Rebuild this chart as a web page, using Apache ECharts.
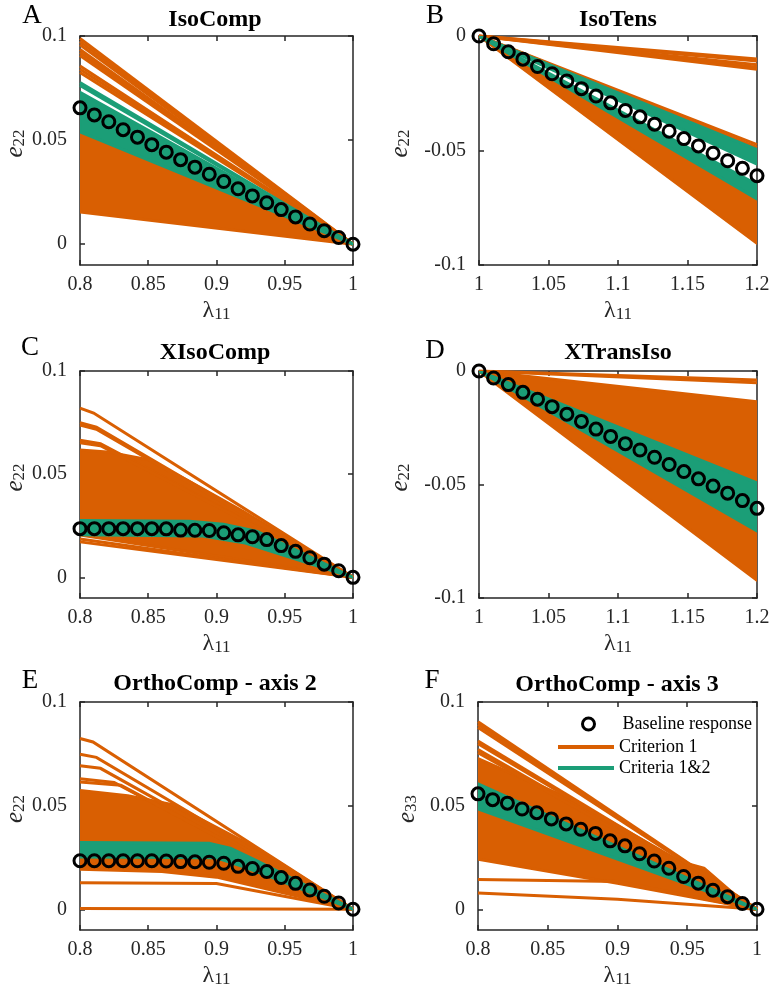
<!DOCTYPE html>
<html><head><meta charset="utf-8">
<script src="https://cdn.jsdelivr.net/npm/echarts/dist/echarts.min.js"></script>
<style>html,body{margin:0;padding:0;background:#fff}#c{width:775px;height:995px}</style>
</head><body><div id="c"></div>
<script>
// ---------------- data ----------------
const titles = ['IsoComp', 'IsoTens', 'XIsoComp', 'XTransIso', 'OrthoComp - axis 2', 'OrthoComp - axis 3'];
const letters = ['A', 'B', 'C', 'D', 'E', 'F'];
const ySubs = ['22', '22', '22', '22', '22', '33'];
const xTicksComp = [0.8, 0.85, 0.9, 0.95, 1];
const xTicksTens = [1, 1.05, 1.1, 1.15, 1.2];
const yTicksComp = [0, 0.05, 0.1];
const yTicksTens = [-0.1, -0.05, 0];
const legendNames = ['Baseline response', 'Criterion 1', 'Criteria 1&2'];

const xComp = [0.8, 0.8105, 0.8211, 0.8316, 0.8421, 0.8526, 0.8632, 0.8737, 0.8842, 0.8947, 0.9053, 0.9158, 0.9263, 0.9368, 0.9474, 0.9579, 0.9684, 0.9789, 0.9895, 1.0];
const xTens = [1.0, 1.0105, 1.0211, 1.0316, 1.0421, 1.0526, 1.0632, 1.0737, 1.0842, 1.0947, 1.1053, 1.1158, 1.1263, 1.1368, 1.1474, 1.1579, 1.1684, 1.1789, 1.1895, 1.2];

const baseA = [0.0655, 0.0621, 0.0588, 0.0550, 0.0514, 0.0478, 0.0442, 0.0406, 0.0370, 0.0336, 0.0301, 0.0266, 0.0232, 0.0199, 0.0166, 0.0131, 0.0097, 0.0065, 0.0032, 0];
const baseB = [0, -0.0034, -0.0069, -0.0101, -0.0133, -0.0165, -0.0196, -0.0230, -0.0262, -0.0292, -0.0325, -0.0353, -0.0385, -0.0416, -0.0448, -0.0480, -0.0512, -0.0545, -0.0578, -0.0610];
const baseC = [0.0236, 0.0236, 0.0236, 0.0236, 0.0236, 0.0236, 0.0235, 0.0229, 0.0228, 0.0227, 0.0216, 0.0206, 0.0197, 0.0183, 0.0154, 0.0126, 0.0095, 0.0064, 0.0032, 0];
const baseD = [0, -0.0031, -0.0060, -0.0094, -0.0124, -0.0157, -0.0190, -0.0222, -0.0256, -0.0288, -0.0320, -0.0348, -0.0380, -0.0412, -0.0443, -0.0475, -0.0507, -0.0538, -0.0571, -0.0605];
const baseE = [0.0234, 0.0234, 0.0234, 0.0234, 0.0234, 0.0234, 0.0233, 0.0230, 0.0229, 0.0227, 0.0222, 0.0207, 0.0197, 0.0182, 0.0153, 0.0125, 0.0093, 0.0063, 0.0030, 0];
const baseF = [0.0557, 0.0529, 0.0512, 0.0484, 0.0466, 0.0436, 0.0412, 0.0386, 0.0366, 0.0330, 0.0306, 0.0268, 0.0233, 0.0198, 0.0158, 0.0126, 0.0092, 0.0061, 0.0028, 0];

// Criterion 1 (orange) and Criteria 1&2 (green): distinct curves and dense envelopes
const orangeLinesA = [
  [[0.8, 0.0988], [1, 0]], [[0.8, 0.0973], [1, 0]], [[0.8, 0.0958], [1, 0]],
  [[0.8, 0.0935], [1, 0]], [[0.8, 0.0921], [1, 0]], [[0.8, 0.0906], [1, 0]],
  [[0.8, 0.0856], [1, 0]], [[0.8, 0.0840], [1, 0]], [[0.8, 0.0825], [1, 0]]
];
const orangeBandsA = [[[0.8, 0.0600], [1, 0], [0.8, 0.0155]]];
const greenLinesA = [[[0.8, 0.0776], [1, 0]], [[0.8, 0.0763], [1, 0]]];
const greenBandsA = [[[0.8, 0.0730], [1, 0], [0.8, 0.0540]]];

const orangeLinesB = [
  [[1, 0], [1.2, -0.0100]], [[1, 0], [1.2, -0.0109]], [[1, 0], [1.2, -0.0126]],
  [[1, 0], [1.2, -0.0136]], [[1, 0], [1.2, -0.0145]],
  [[1, 0], [1.2, -0.0474]], [[1, 0], [1.2, -0.0486]]
];
const orangeBandsB = [[[1, 0], [1.2, -0.0700], [1.2, -0.0905]]];
const greenLinesB = [];
const greenBandsB = [[[1, 0], [1.2, -0.0496], [1.2, -0.0560]], [[1, 0], [1.2, -0.0648], [1.2, -0.0712]]];

const orangeLinesC = [
  [[0.8, 0.0820], [0.81, 0.0796], [1, 0]],
  [[0.8, 0.0750], [0.812, 0.0728], [1, 0]],
  [[0.8, 0.0738], [0.812, 0.0718], [1, 0]],
  [[0.8, 0.0664], [0.815, 0.0648], [1, 0]],
  [[0.8, 0.0652], [0.815, 0.0638], [1, 0]],
  [[0.8, 0.0186], [1, 0]],
  [[0.8, 0.0172], [1, 0]]
];
const orangeBandsC = [[[0.8, 0.0617], [0.82, 0.0608], [0.85, 0.0570], [0.88, 0.0465], [0.92, 0.0318], [1, 0], [0.8, 0.0205]]];
const greenLinesC = [];
const greenBandsC = [[[0.8, 0.0275], [0.88, 0.0272], [0.905, 0.0258], [0.93, 0.0222], [1, 0], [0.92, 0.0168], [0.89, 0.0200], [0.8, 0.0207]]];

const orangeLinesD = [[[1, 0], [1.2, -0.0040]], [[1, 0], [1.2, -0.0052]]];
const orangeBandsD = [[[1, 0], [1.2, -0.0135], [1.2, -0.0922]]];
const greenLinesD = [];
const greenBandsD = [[[1, 0], [1.2, -0.0493], [1.2, -0.0705]]];

const orangeLinesE = [
  [[0.8, 0.0824], [0.8095, 0.0807], [1, 0]],
  [[0.8, 0.0748], [0.812, 0.0733], [1, 0]],
  [[0.8, 0.0692], [0.815, 0.0680], [1, 0]],
  [[0.8, 0.0630], [0.825, 0.0612], [1, 0]],
  [[0.8, 0.0614], [0.83, 0.0598], [1, 0]],
  [[0.8, 0.0128], [0.9, 0.0124], [1, 0]],
  [[0.8, 0.0004], [1, 0]]
];
const orangeBandsE = [[[0.8, 0.0573], [0.835, 0.0548], [0.868, 0.0505], [0.93, 0.0292], [1, 0], [0.9, 0.0155], [0.86, 0.0182], [0.8, 0.0193]]];
const greenLinesE = [];
const greenBandsE = [[[0.8, 0.0322], [0.895, 0.0318], [0.91, 0.0295], [0.93, 0.0232], [1, 0], [0.94, 0.0155], [0.92, 0.0205], [0.9, 0.0248], [0.8, 0.0252]]];

const orangeLinesF = [
  [[0.8, 0.0905], [1, 0]], [[0.8, 0.0891], [1, 0]], [[0.8, 0.0877], [1, 0]],
  [[0.8, 0.0812], [1, 0]], [[0.8, 0.0799], [1, 0]],
  [[0.8, 0.0770], [1, 0]], [[0.8, 0.0756], [1, 0]],
  [[0.8, 0.0144], [0.9, 0.0134], [1, 0]],
  [[0.8, 0.0079], [0.9, 0.0048], [1, 0]]
];
const orangeBandsF = [[[0.8, 0.0727], [0.87, 0.0520], [0.945, 0.0230], [0.962, 0.0198], [0.985, 0.0065], [1, 0], [0.9, 0.0125], [0.8, 0.0241]]];
const greenLinesF = [];
const greenBandsF = [[[0.8, 0.0605], [1, 0], [0.8, 0.0484]]];

// ---------------- styling / layout ----------------
const ORANGE = '#D95F02', GREEN = '#1B9E77', AX = '#262626';
const FONT = '"Liberation Serif", "Times New Roman", serif';
const LW = 3;

const panels = [
  {grid: {left: 77, top: 36, width: 276, height: 229}, xr: [0.8, 1], yr: [-0.01, 0.1], xt: xTicksComp, yt: yTicksComp, bx: xComp, by: baseA,
   ol: orangeLinesA, ob: orangeBandsA, gl: greenLinesA, gb: greenBandsA, yGap: 52, title: [215, 20], letter: [32, 16]},
  {grid: {left: 479, top: 36, width: 278, height: 229}, xr: [1, 1.2], yr: [-0.1, 0], xt: xTicksTens, yt: yTicksTens, bx: xTens, by: baseB,
   ol: orangeLinesB, ob: orangeBandsB, gl: greenLinesB, gb: greenBandsB, yGap: 66, title: [618, 20], letter: [435, 16]},
  {grid: {left: 77, top: 371, width: 276, height: 227}, xr: [0.8, 1], yr: [-0.01, 0.1], xt: xTicksComp, yt: yTicksComp, bx: xComp, by: baseC,
   ol: orangeLinesC, ob: orangeBandsC, gl: greenLinesC, gb: greenBandsC, yGap: 52, title: [215, 353], letter: [30, 348]},
  {grid: {left: 479, top: 371, width: 278, height: 227}, xr: [1, 1.2], yr: [-0.1, 0], xt: xTicksTens, yt: yTicksTens, bx: xTens, by: baseD,
   ol: orangeLinesD, ob: orangeBandsD, gl: greenLinesD, gb: greenBandsD, yGap: 66, title: [618, 353], letter: [435, 351]},
  {grid: {left: 77, top: 702, width: 276, height: 228}, xr: [0.8, 1], yr: [-0.01, 0.1], xt: xTicksComp, yt: yTicksComp, bx: xComp, by: baseE,
   ol: orangeLinesE, ob: orangeBandsE, gl: greenLinesE, gb: greenBandsE, yGap: 52, title: [215, 684], letter: [30, 681]},
  {grid: {left: 478, top: 702, width: 279, height: 228}, xr: [0.8, 1], yr: [-0.01, 0.1], xt: xTicksComp, yt: yTicksComp, bx: xComp, by: baseF,
   ol: orangeLinesF, ob: orangeBandsF, gl: greenLinesF, gb: greenBandsF, yGap: 58, title: [617, 685], letter: [432, 681]}
];

const fmt = v => String(+(+v).toFixed(3));
const axLine = {show: true, onZero: false, lineStyle: {color: AX, width: 1.5}};

const grids = [], xAxes = [], yAxes = [], series = [], graphics = [];

function polySeries(k, polys, color, name, z) {
  return {
    type: 'custom', name: name, xAxisIndex: 2 * k, yAxisIndex: 2 * k, coordinateSystem: 'cartesian2d',
    silent: true, z: z, clip: true,
    data: polys.map(p => p[0]),
    renderItem: function (params, api) {
      const p = polys[params.dataIndex];
      return {type: 'polygon', shape: {points: p.map(pt => api.coord(pt))},
        style: {fill: color, stroke: color, lineWidth: LW, lineJoin: 'round'}};
    }
  };
}
function lineSeries(k, lines, color, name, z) {
  return {
    type: 'lines', name: name, xAxisIndex: 2 * k, yAxisIndex: 2 * k, coordinateSystem: 'cartesian2d',
    polyline: true, silent: true, z: z,
    data: lines.map(c => ({coords: c})),
    lineStyle: {color: color, width: LW, opacity: 1}
  };
}

panels.forEach((p, k) => {
  grids.push(Object.assign({containLabel: false}, p.grid));
  xAxes.push({
    gridIndex: k, type: 'value', min: p.xr[0], max: p.xr[1], position: 'bottom',
    axisLine: axLine,
    axisTick: {show: true, inside: true, length: 5, customValues: p.xt, lineStyle: {color: AX, width: 1.5}},
    axisLabel: {show: true, customValues: p.xt, formatter: fmt, margin: 10, fontFamily: FONT, fontSize: 20, color: AX},
    splitLine: {show: false},
    name: '{l|λ}{s|11}', nameLocation: 'middle', nameGap: 33,
    nameTextStyle: {rich: {
      l: {fontFamily: FONT, fontSize: 24, color: AX, lineHeight: 24, verticalAlign: 'top'},
      s: {fontFamily: FONT, fontSize: 17, color: AX, lineHeight: 17, padding: [10, 0, 0, 0], verticalAlign: 'bottom'}
    }}
  });
  xAxes.push({
    gridIndex: k, type: 'value', min: p.xr[0], max: p.xr[1], position: 'top',
    axisLine: axLine,
    axisTick: {show: true, inside: true, length: 5, customValues: p.xt, lineStyle: {color: AX, width: 1.5}},
    axisLabel: {show: false}, splitLine: {show: false}
  });
  yAxes.push({
    gridIndex: k, type: 'value', min: p.yr[0], max: p.yr[1], position: 'left',
    axisLine: axLine,
    axisTick: {show: true, inside: true, length: 5, customValues: p.yt, lineStyle: {color: AX, width: 1.5}},
    axisLabel: {show: true, customValues: p.yt, formatter: fmt, margin: 13, fontFamily: FONT, fontSize: 20, color: AX},
    splitLine: {show: false},
    name: '{i|e}{s|' + ySubs[k] + '}', nameLocation: 'middle', nameGap: p.yGap, nameRotate: 90,
    nameTextStyle: {padding: [0, 0, 0, 14], rich: {
      i: {fontFamily: FONT, fontStyle: 'italic', fontSize: 25, color: AX, lineHeight: 25, verticalAlign: 'top'},
      s: {fontFamily: FONT, fontSize: 17, color: AX, lineHeight: 17, padding: [10, 0, 0, 0], verticalAlign: 'bottom'}
    }}
  });
  yAxes.push({
    gridIndex: k, type: 'value', min: p.yr[0], max: p.yr[1], position: 'right',
    axisLine: axLine,
    axisTick: {show: true, inside: true, length: 5, customValues: p.yt, lineStyle: {color: AX, width: 1.5}},
    axisLabel: {show: false}, splitLine: {show: false}
  });

  series.push(polySeries(k, p.ob, ORANGE, legendNames[1], 2));
  series.push(lineSeries(k, p.ol, ORANGE, legendNames[1], 2));
  series.push(polySeries(k, p.gb, GREEN, legendNames[2], 3));
  if (p.gl.length) series.push(lineSeries(k, p.gl, GREEN, legendNames[2], 3));
  series.push({
    type: 'scatter', name: legendNames[0], xAxisIndex: 2 * k, yAxisIndex: 2 * k, z: 5, clip: false, silent: true,
    symbol: 'circle', symbolSize: 12,
    itemStyle: {color: 'rgba(0,0,0,0)', borderColor: '#000', borderWidth: 3, opacity: 1},
    data: p.bx.map((x, i) => [x, p.by[i]])
  });

  graphics.push({type: 'text', x: p.title[0], y: p.title[1], silent: true,
    style: {text: titles[k], font: 'bold 24px ' + FONT, fill: '#000', align: 'center', verticalAlign: 'middle', textAlign: 'center', textVerticalAlign: 'middle'}});
  graphics.push({type: 'text', x: p.letter[0], y: p.letter[1], silent: true,
    style: {text: letters[k], font: '27px ' + FONT, fill: '#000', align: 'center', verticalAlign: 'middle', textAlign: 'center', textVerticalAlign: 'middle'}});
});

const option = {
  animation: false,
  backgroundColor: '#fff',
  grid: grids, xAxis: xAxes, yAxis: yAxes, series: series,
  graphic: {elements: graphics},
  legend: [
    {data: [{name: legendNames[0], icon: 'circle', itemStyle: {color: 'rgba(0,0,0,0)', borderColor: '#000', borderWidth: 3}}],
     left: 581, top: 715, padding: 0, itemWidth: 12, itemHeight: 12, selectedMode: false,
     textStyle: {fontFamily: FONT, fontSize: 18, color: '#000', lineHeight: 18, padding: [0, 0, 0, 23]}},
    {data: [{name: legendNames[1], icon: 'rect', itemStyle: {color: ORANGE}}, {name: legendNames[2], icon: 'rect', itemStyle: {color: GREEN}}],
     orient: 'vertical', left: 558, top: 738, padding: 0, itemWidth: 56, itemHeight: 4, itemGap: 3, selectedMode: false,
     textStyle: {fontFamily: FONT, fontSize: 18, color: '#000', lineHeight: 18}}
  ]
};

const chart = echarts.init(document.getElementById('c'), null, {renderer: 'canvas'});
chart.setOption(option);
</script></body></html>
